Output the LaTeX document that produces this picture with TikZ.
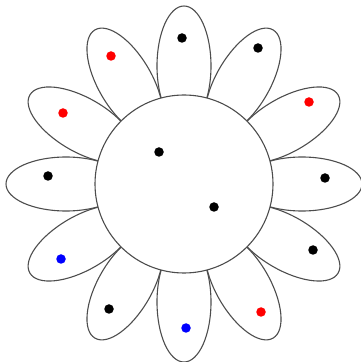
\documentclass[tikz,border=0pt]{standalone}
\usepackage{xcolor}
\usetikzlibrary{positioning}
\definecolor{inkL}{HTML}{4D4D4D}
\definecolor{dotR}{HTML}{FF0000}
\definecolor{dotB}{HTML}{0000FF}
\tikzset{
  petal/.style={draw=inkL, line width=1.1pt},
  seed/.style={circle, fill=#1, inner sep=0pt, minimum size=9.5pt},
  seed/.default=black
}
\begin{document}
\begin{tikzpicture}[x=1pt,y=1pt]
\useasboundingbox (0,0) rectangle (360,362);
\coordinate (c) at (184,178);
% twelve petals round the heart
\foreach \a in {0,30,...,330}{
  \begin{scope}[shift={(c)}, rotate=\a]
    \draw[petal] (118,0) ellipse [x radius=60, y radius=27];
  \end{scope}
}
\fill[white] (c) circle [radius=89];
\draw[petal] (c) circle [radius=89];
% seeds
\node[seed] (s1) at (182,324) {};
\node[seed] (s2) at (258,314) {};
\node[seed=dotR] (s3) at (309,260) {};
\node[seed] (s4) at (325,184) {};
\node[seed] (s5) at (313,112) {};
\node[seed=dotR] (s6) at (261,50) {};
\node[seed=dotB] (s7) at (186,34) {};
\node[seed] (s8) at (109,53) {};
\node[seed=dotB] (s9) at (61,103) {};
\node[seed] (s10) at (48,186) {};
\node[seed=dotR] (s11) at (63,249) {};
\node[seed=dotR] (s12) at (111,306) {};
\node[seed] (h1) at (159,210) {};
\node[seed] (h2) at (214,155) {};
\end{tikzpicture}
\end{document}
